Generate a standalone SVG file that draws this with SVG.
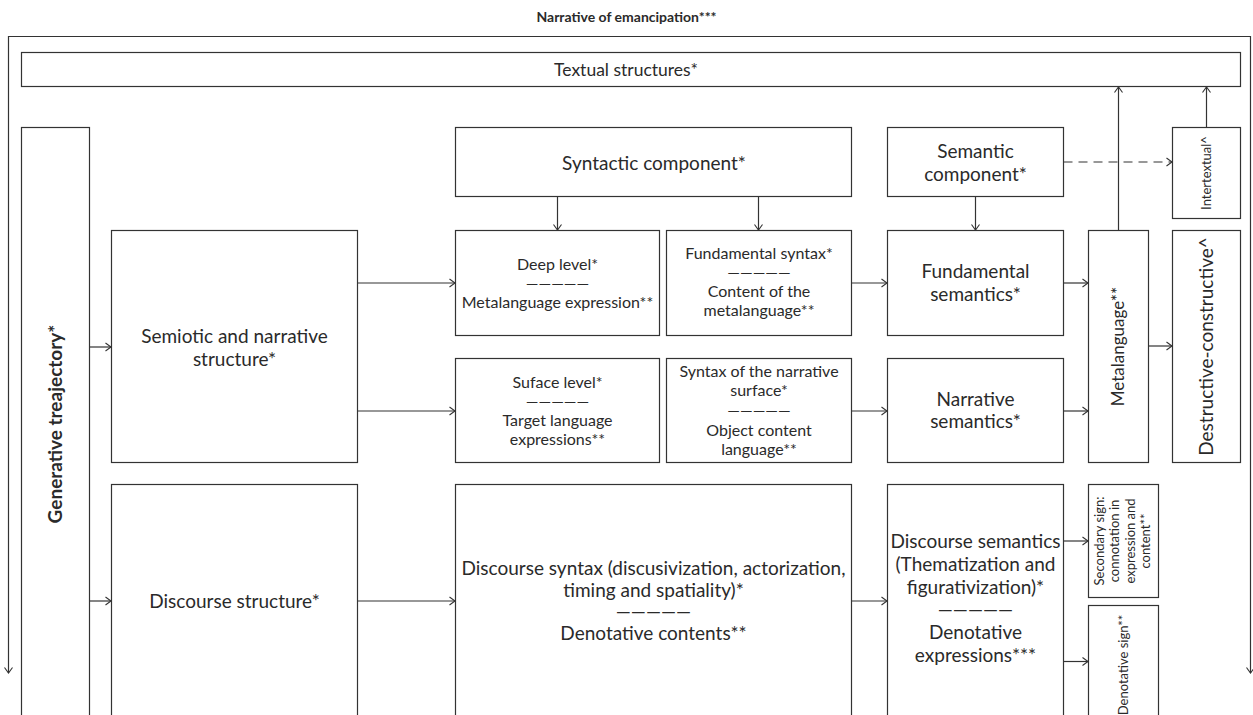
<svg xmlns="http://www.w3.org/2000/svg" width="1253" height="715" viewBox="0 0 1253 715">
<defs>
<marker id="arr" viewBox="-7 -5 8 10" refX="0" refY="0" markerWidth="8" markerHeight="10" markerUnits="userSpaceOnUse" orient="auto-start-reverse">
<path d="M-5.5,-4 L0,0 L-5.5,4" fill="none" stroke="#333" stroke-width="1.1"/>
</marker>
<style>
.box{fill:#fff;stroke:#333;stroke-width:1.2}
.ln{fill:none;stroke:#333;stroke-width:1.2}
.dash{fill:none;stroke:#333;stroke-width:1.2;stroke-dasharray:9 6}
text{font-family:Lato,"Liberation Sans",sans-serif;fill:#2a2a2a;text-anchor:middle}
.t19{font-size:19px}
.t17{font-size:17px}
.t16{font-size:16px}
.t13{font-size:13px}
.b{font-weight:bold}
</style>
</defs>
<rect width="1253" height="715" fill="#fff"/>
<text class="b" x="626.5" y="22" style="font-size:14px">Narrative of emancipation***</text>

<g id="connectors">
<path class="ln" d="M8.5,673 V36.5 H1250.5 V673" marker-start="url(#arr)" marker-end="url(#arr)"/>
<path class="ln" d="M89.5,347 H111" marker-end="url(#arr)"/>
<path class="ln" d="M89.5,601 H111" marker-end="url(#arr)"/>
<path class="ln" d="M357.5,283 H455" marker-end="url(#arr)"/>
<path class="ln" d="M357.5,411 H455" marker-end="url(#arr)"/>
<path class="ln" d="M557.5,196.5 V230" marker-end="url(#arr)"/>
<path class="ln" d="M758.5,196.5 V230" marker-end="url(#arr)"/>
<path class="ln" d="M975.5,196.5 V230" marker-end="url(#arr)"/>
<path class="ln" d="M851.5,283 H887" marker-end="url(#arr)"/>
<path class="ln" d="M851.5,411 H887" marker-end="url(#arr)"/>
<path class="ln" d="M1063.5,283 H1088" marker-end="url(#arr)"/>
<path class="ln" d="M1063.5,411 H1088" marker-end="url(#arr)"/>
<path class="ln" d="M1118.5,230.5 V87" marker-end="url(#arr)"/>
<path class="ln" d="M1148.5,346 H1172" marker-end="url(#arr)"/>
<path class="dash" d="M1063.5,162 H1172" marker-end="url(#arr)"/>
<path class="ln" d="M1206.5,127.5 V87" marker-end="url(#arr)"/>
<path class="ln" d="M357.5,601 H455" marker-end="url(#arr)"/>
<path class="ln" d="M851.5,601 H887" marker-end="url(#arr)"/>
<path class="ln" d="M1063.5,541 H1088" marker-end="url(#arr)"/>
<path class="ln" d="M1063.5,661.5 H1088" marker-end="url(#arr)"/>
</g>

<g id="textual">
<rect class="box" x="21.5" y="52.5" width="1219" height="34"/>
<text x="626" y="76" style="font-size:17.5px">Textual structures*</text>
</g>

<g id="generative">
<rect class="box" x="21.5" y="127.5" width="68" height="600"/>
<text class="t19 b" transform="translate(62,424) rotate(-90)">Generative treajectory*</text>
</g>

<g id="syntactic">
<rect class="box" x="455.5" y="127.5" width="396" height="69"/>
<text class="t19" x="654" y="169.5">Syntactic component*</text>
</g>

<g id="semantic">
<rect class="box" x="887.5" y="127.5" width="176" height="69"/>
<text class="t19" x="975.5" y="157.5">Semantic</text>
<text class="t19" x="975.5" y="180.5">component*</text>
</g>

<g id="intertextual">
<rect class="box" x="1172.5" y="127.5" width="68" height="91"/>
<text class="t13" transform="translate(1211,173) rotate(-90)">Intertextual^</text>
</g>

<g id="semiotic">
<rect class="box" x="111.5" y="230.5" width="246" height="232"/>
<text class="t19" x="234.5" y="342.5">Semiotic and narrative</text>
<text class="t19" x="234.5" y="365.5">structure*</text>
</g>

<g id="deep">
<rect class="box" x="455.5" y="230.5" width="204" height="105"/>
<text class="t16" x="557.5" y="269.5">Deep level*</text>
<text class="t16" x="557.5" y="288.5">—————</text>
<text class="t16" x="557.5" y="307.5">Metalanguage expression**</text>
</g>

<g id="fundsyntax">
<rect class="box" x="666.5" y="230.5" width="185" height="105"/>
<text class="t16" x="759" y="258.5">Fundamental syntax*</text>
<text class="t16" x="759" y="277.5">—————</text>
<text class="t16" x="759" y="297">Content of the</text>
<text class="t16" x="759" y="316">metalanguage**</text>
</g>

<g id="fundsem">
<rect class="box" x="887.5" y="230.5" width="176" height="105"/>
<text class="t19" x="975.5" y="277.5">Fundamental</text>
<text class="t19" x="975.5" y="300.5">semantics*</text>
</g>

<g id="metalanguage">
<rect class="box" x="1088.5" y="230.5" width="60" height="232"/>
<text class="t17" transform="translate(1124,346.5) rotate(-90)">Metalanguage**</text>
</g>

<g id="destructive">
<rect class="box" x="1172.5" y="230.5" width="68" height="232"/>
<text class="t19" transform="translate(1212.5,346.5) rotate(-90)">Destructive-constructive^</text>
</g>

<g id="suface">
<rect class="box" x="455.5" y="358.5" width="204" height="104"/>
<text class="t16" x="557.5" y="387.5">Suface level*</text>
<text class="t16" x="557.5" y="406.5">—————</text>
<text class="t16" x="557.5" y="425.5">Target language</text>
<text class="t16" x="557.5" y="444.5">expressions**</text>
</g>

<g id="narrsurface">
<rect class="box" x="666.5" y="358.5" width="185" height="104"/>
<text class="t16" x="759" y="377">Syntax of the narrative</text>
<text class="t16" x="759" y="396">surface*</text>
<text class="t16" x="759" y="416">—————</text>
<text class="t16" x="759" y="435.5">Object content</text>
<text class="t16" x="759" y="455">language**</text>
</g>

<g id="narrsem">
<rect class="box" x="887.5" y="358.5" width="176" height="104"/>
<text class="t19" x="975.5" y="405.5">Narrative</text>
<text class="t19" x="975.5" y="427.5">semantics*</text>
</g>

<g id="discstructure">
<rect class="box" x="111.5" y="484.5" width="246" height="245"/>
<text class="t19" x="234.5" y="607.5">Discourse structure*</text>
</g>

<g id="discsyntax">
<rect class="box" x="455.5" y="484.5" width="396" height="245"/>
<text class="t19" x="653.5" y="574.5">Discourse syntax (discusivization, actorization,</text>
<text class="t19" x="653.5" y="596.5">timing and spatiality)*</text>
<text class="t19" x="653.5" y="617.5">—————</text>
<text class="t19" x="653.5" y="639.5">Denotative contents**</text>
</g>

<g id="discsem">
<rect class="box" x="887.5" y="484.5" width="176" height="245"/>
<text class="t19" x="975.5" y="547.5">Discourse semantics</text>
<text class="t19" x="975.5" y="570.5">(Thematization and</text>
<text class="t19" x="975.5" y="593.5">figurativization)*</text>
<text class="t19" x="975.5" y="615.5">—————</text>
<text class="t19" x="975.5" y="638.5">Denotative</text>
<text class="t19" x="975.5" y="661.5">expressions***</text>
</g>

<g id="secondary">
<rect class="box" x="1088.5" y="484.5" width="70" height="113"/>
<text class="t13" transform="translate(1103.5,541) rotate(-90)">Secondary sign:</text>
<text class="t13" transform="translate(1119,541) rotate(-90)">connotation in</text>
<text class="t13" transform="translate(1134.5,541) rotate(-90)">expression and</text>
<text class="t13" transform="translate(1150,541) rotate(-90)">content**</text>
</g>

<g id="denotative">
<rect class="box" x="1088.5" y="605.5" width="70" height="125"/>
<text class="t13" transform="translate(1127.5,665) rotate(-90)">Denotative sign**</text>
</g>
</svg>
